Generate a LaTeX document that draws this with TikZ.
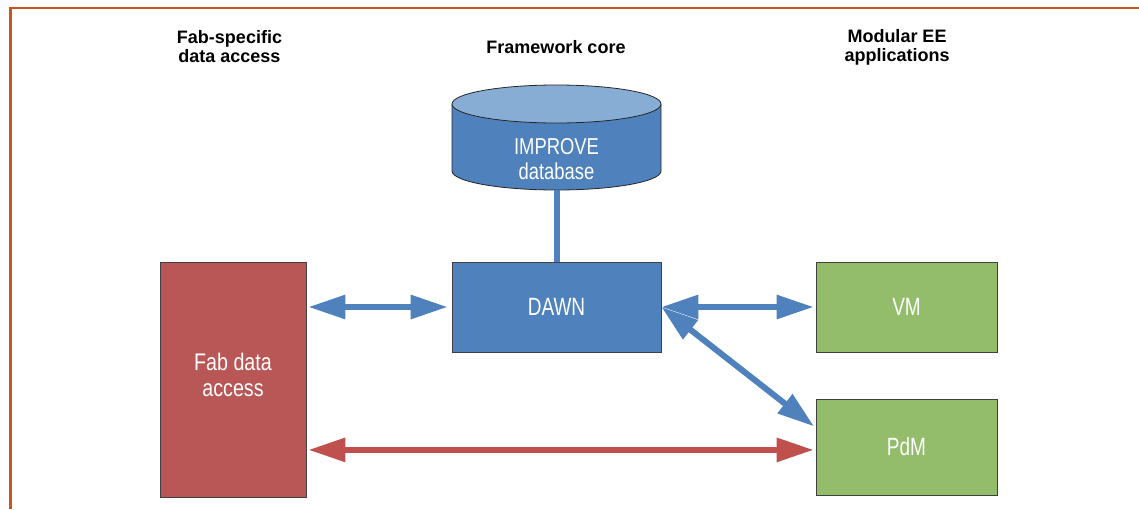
\documentclass[tikz,border=0pt]{standalone}
\usepackage{fontspec}
\setmainfont{Liberation Sans}
\newfontfamily\hdrfont{Liberation Sans}
\newfontfamily\boxfont{Liberation Sans}[FakeStretch=0.76]
\newfontfamily\dbfont{Liberation Sans}[FakeStretch=0.8]
\newfontfamily\fabfont{Liberation Sans}[FakeStretch=0.82]
\usetikzlibrary{arrows.meta,calc}
\definecolor{bblue}{HTML}{4F81BD}
\definecolor{ltblue}{HTML}{88ADD5}
\definecolor{fabred}{HTML}{B95656}
\definecolor{arred}{HTML}{C0504D}
\definecolor{appgreen}{HTML}{93BC6B}
\definecolor{frameorange}{HTML}{C8561D}
\begin{document}
\begin{tikzpicture}[x=1pt,y=-1pt,
  box/.style={draw=black!75, line width=0.8pt, inner sep=0pt, text=white,
    font=\boxfont\fontsize{25}{27}\selectfont, align=center},
  hdr/.style={font=\hdrfont\bfseries\fontsize{18}{19}\selectfont, align=center, inner sep=0pt},
  link/.style={line width=6pt, {Triangle[length=37pt,width=23pt]}-{Triangle[length=37pt,width=23pt]}}]
\useasboundingbox[fill=white] (0,0) rectangle (1139,509);
% frame
\draw[frameorange, line width=2.5pt] (10.3,509) -- (10.3,7.8) -- (1139,7.8);
% headers
\node[hdr] (h1) at (229.5,47) {Fab-specific\\data access};
\node[hdr] (h2) at (556,47) {Framework core};
\node[hdr] (h3) at (897,47) {Modular EE\\applications};
% cylinder
\fill[bblue] (452,104) -- (452,171) arc[start angle=180,end angle=360,x radius=104.5pt,y radius=19pt] -- (661,104) -- cycle;
\draw[black!85, line width=0.8pt] (452,104) -- (452,171) arc[start angle=180,end angle=360,x radius=104.5pt,y radius=19pt] -- (661,104);
\draw[black!85, line width=0.8pt, fill=ltblue] (556.5,104) ellipse[x radius=104.5pt, y radius=19pt];
\node[inner sep=0pt, text=white, font=\dbfont\fontsize{23}{25}\selectfont, align=center] (db) at (556.5,159) {IMPROVE\\database};
\coordinate (dbbot) at (556.5,190);
% boxes
\node[box, fill=fabred, minimum width=146pt, minimum height=235pt, text depth=10pt, font=\fabfont\fontsize{24}{26}\selectfont] (fab) at (233,379.5) {Fab data\\access};
\node[box, fill=bblue, minimum width=209pt, minimum height=90pt] (dawn) at (556.5,307) {DAWN};
\node[box, fill=appgreen, minimum width=181pt, minimum height=90pt] (vm) at (906.5,307) {VM};
\node[box, fill=appgreen, minimum width=181pt, minimum height=96pt] (pdm) at (906.5,447) {PdM};
% connectors
\draw[bblue, line width=6pt] (dbbot) -- (dawn.north);
\coordinate (pdmA) at ($(pdm.north west)!0.30!(pdm.south west)$);
\coordinate (pdmB) at ($(pdm.north west)!0.53!(pdm.south west)$);
\draw[link, bblue, shorten <=2pt, shorten >=4pt] (fab.east |- dawn.west) -- (dawn.west);
\draw[link, bblue, shorten >=2pt] (dawn.east) -- (pdmA);
\draw[link, bblue, shorten >=2pt] (dawn.east) -- (vm.west);
\draw[link, arred, shorten <=2pt, shorten >=2pt] (fab.east |- pdmB) -- (pdmB);
\end{tikzpicture}
\end{document}
